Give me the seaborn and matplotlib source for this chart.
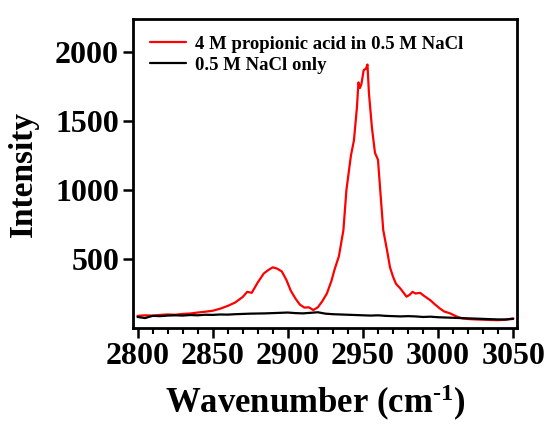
import numpy as np
import pandas as pd
import matplotlib
matplotlib.use("Agg")
import matplotlib.pyplot as plt
import seaborn as sns

# --- data ---
red_x = [2800, 2805, 2810, 2815, 2820, 2825, 2830, 2835, 2840, 2845, 2850, 2855,
         2860, 2865, 2870, 2873, 2876, 2880, 2884, 2887, 2890, 2893, 2896, 2899,
         2902, 2905, 2908, 2911, 2914, 2917, 2920, 2923, 2926, 2929, 2931, 2934,
         2937, 2939, 2942, 2944, 2946, 2947, 2948, 2949, 2950.5, 2952, 2953,
         2954, 2956, 2958, 2960, 2961.5, 2963.5, 2966, 2968, 2970, 2972, 2975,
         2979, 2981, 2983, 2985, 2988, 2991, 2995, 2998, 3001, 3004, 3008, 3012,
         3016, 3020, 3025, 3030, 3035, 3040, 3045, 3050]
red_y = [88, 92, 90, 95, 98, 96, 102, 105, 112, 118, 125, 140,
         160, 185, 225, 262, 255, 330, 395, 420, 440, 430, 410, 350,
         270, 215, 170, 148, 150, 130, 150, 195, 250, 340, 420, 520,
         710, 1000, 1250, 1360, 1600, 1780, 1740, 1770, 1870, 1880, 1910,
         1700, 1450, 1270, 1220, 1000, 710, 565, 440, 372, 320, 285,
         227, 240, 262, 250, 255, 230, 200, 170, 143, 120, 106, 85,
         70, 65, 62, 60, 58, 57, 60, 70]

black_x = [2800, 2805, 2810, 2815, 2820, 2825, 2830, 2835, 2840, 2845, 2850,
           2855, 2860, 2865, 2870, 2875, 2880, 2885, 2890, 2895, 2900, 2905,
           2910, 2915, 2920, 2925, 2930, 2935, 2940, 2945, 2950, 2955, 2960,
           2965, 2970, 2975, 2980, 2985, 2990, 2995, 3000, 3005, 3010, 3015,
           3020, 3025, 3030, 3035, 3040, 3045, 3050]
black_y = [80, 72, 88, 86, 90, 92, 90, 94, 92, 96, 95,
           98, 97, 100, 102, 104, 105, 106, 108, 110, 112, 108,
           106, 110, 114, 104, 100, 98, 96, 94, 92, 90, 92,
           88, 86, 84, 86, 84, 80, 82, 78, 76, 74, 72,
           70, 68, 66, 64, 62, 62, 66]

series_labels = ["4 M propionic acid in 0.5 M NaCl", "0.5 M NaCl only"]
x_ticks = [2800, 2850, 2900, 2950, 3000, 3050]
y_ticks = [500, 1000, 1500, 2000]

df = pd.concat([
    pd.DataFrame({"x": red_x, "y": red_y, "s": series_labels[0]}),
    pd.DataFrame({"x": black_x, "y": black_y, "s": series_labels[1]}),
])

sns.set_theme(style="ticks")
plt.rcParams["font.family"] = ["Liberation Serif", "DejaVu Serif"]
plt.rcParams["font.weight"] = "bold"
plt.rcParams["text.color"] = "black"
plt.rcParams["axes.labelcolor"] = "black"
plt.rcParams["xtick.color"] = "black"
plt.rcParams["ytick.color"] = "black"
plt.rcParams["axes.edgecolor"] = "black"
plt.rcParams["mathtext.fontset"] = "custom"
plt.rcParams["mathtext.rm"] = "Liberation Serif:bold"
plt.rcParams["mathtext.bf"] = "Liberation Serif:bold"
plt.rcParams["mathtext.default"] = "bf"

fig = plt.figure(figsize=(5.5, 4.29), dpi=100)
ax = fig.add_axes([133 / 550, 1 - 328 / 429, (517 - 133) / 550, (328 - 19) / 429])

sns.lineplot(data=df, x="x", y="y", hue="s", palette=["#ff0000", "#000000"],
             linewidth=1.6, ax=ax, sort=False, estimator=None)

ax.set_xlim(2797, 3052.5)
ax.set_ylim(0, 2240)
ax.set_xticks(x_ticks)
ax.set_xticks(np.arange(2800, 3051, 10), minor=True)
ax.set_yticks(y_ticks)
ax.tick_params(axis="both", which="major", direction="out", length=7, width=1.8,
               labelsize=23, pad=3, colors="black")
ax.tick_params(axis="x", which="minor", direction="out", length=4, width=1.5,
               colors="black")
for lab in ax.get_xticklabels() + ax.get_yticklabels():
    lab.set_fontweight("bold")
for sp in ax.spines.values():
    sp.set_linewidth(2)
    sp.set_visible(True)
    sp.set_color("black")

ax.set_xlabel("Wavenumber (cm$^{\\text{-1}}$)", fontsize=25, fontweight="bold",
              labelpad=9, color="black")
ax.xaxis.label.set_x(0.475)
ax.set_ylabel("Intensity", fontsize=24, fontweight="bold", labelpad=12,
              color="black")

leg = ax.legend(loc="upper left", frameon=False, handlelength=1.9,
                handletextpad=0.5, borderaxespad=0.5, labelspacing=0.2,
                prop={"weight": "bold", "size": 13.5})
for line in leg.get_lines():
    line.set_linewidth(1.6)
for t in leg.get_texts():
    t.set_color("black")

fig.savefig("out.png", dpi=100)
